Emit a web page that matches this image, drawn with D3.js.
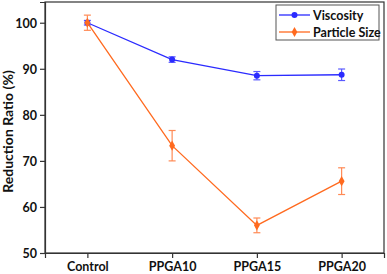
<!DOCTYPE html>
<html>
<head>
<meta charset="utf-8">
<script src="https://cdn.jsdelivr.net/npm/d3@7/dist/d3.min.js"></script>
<style>
  html, body { margin: 0; padding: 0; background: #fff; }
  text { font-family: Lato, "Open Sans", sans-serif; font-weight: bold; }
</style>
</head>
<body>
<svg id="chart" width="387" height="274"></svg>
<script>
// data
var categories = ['Control', 'PPGA10', 'PPGA15', 'PPGA20'];
var viscosity = [100, 92.0, 88.5, 88.7];
var viscosityErr = [0.5, 0.6, 0.9, 1.25];
var particle = [100, 73.3, 56.0, 65.6];
var particleErr = [1.65, 3.3, 1.6, 2.9];
var yTicks = [50, 60, 70, 80, 90, 100];

var W = 387, H = 274;
var m = { left: 45, right: 3, top: 2, bottom: 21 };
var svg = d3.select('#chart');

var x = d3.scalePoint().domain(categories).range([m.left, W - m.right]).padding(0.5);
var y = d3.scaleLinear().domain([50, 104.5]).range([H - m.bottom, m.top]);

var axisCol = '#333';
// frame
svg.append('rect').attr('x', m.left).attr('y', m.top)
  .attr('width', W - m.right - m.left).attr('height', H - m.bottom - m.top)
  .attr('fill', 'none').attr('stroke', axisCol).attr('stroke-width', 1.2);

var gx = svg.append('g').attr('transform', 'translate(0,' + (H - m.bottom) + ')')
  .call(d3.axisBottom(x).tickSize(5).tickPadding(4));
var gy = svg.append('g').attr('transform', 'translate(' + m.left + ',0)')
  .call(d3.axisLeft(y).tickValues(yTicks).tickSize(5).tickPadding(3));
[gx, gy].forEach(function (g) {
  g.select('.domain').attr('stroke', axisCol).attr('stroke-width', 1.2);
  g.selectAll('.tick line').attr('stroke', axisCol).attr('stroke-width', 1.2);
  g.selectAll('.tick text').attr('fill', '#111').style('font-size', '12.5px')
    .style('font-family', 'Lato, sans-serif').style('font-weight', 'bold');
});
gy.selectAll('.tick text').attr('dy', '0.36em');

svg.append('text').attr('transform', 'translate(13,' + (m.top + (H - m.bottom - m.top) / 2 + 4) + ') rotate(-90)')
  .attr('text-anchor', 'middle').attr('fill', '#111').style('font-size', '14px')
  .text('Reduction Ratio (%)');

var series = [
  { name: 'Viscosity', vals: viscosity, err: viscosityErr, color: '#2b2bff', errColor: '#5a5aff', shape: d3.symbolCircle },
  { name: 'Particle Size', vals: particle, err: particleErr, color: '#ff6a1f', errColor: '#ff8a55', shape: d3.symbolDiamond }
];

series.forEach(function (s) {
  var pts = categories.map(function (c, i) { return { c: c, v: s.vals[i], e: s.err[i] }; });
  var g = svg.append('g');
  g.append('path').datum(pts).attr('fill', 'none').attr('stroke', s.color).attr('stroke-width', 1.3)
    .attr('d', d3.line().x(function (d) { return x(d.c); }).y(function (d) { return y(d.v); }));
  var eb = g.selectAll('.eb').data(pts).enter().append('g');
  eb.append('line').attr('x1', function (d) { return x(d.c); }).attr('x2', function (d) { return x(d.c); })
    .attr('y1', function (d) { return y(d.v - d.e); }).attr('y2', function (d) { return y(d.v + d.e); })
    .attr('stroke', s.errColor).attr('stroke-width', 1.2);
  [-1, 1].forEach(function (sg) {
    eb.append('line').attr('x1', function (d) { return x(d.c) - 3.5; }).attr('x2', function (d) { return x(d.c) + 3.5; })
      .attr('y1', function (d) { return y(d.v + sg * d.e); }).attr('y2', function (d) { return y(d.v + sg * d.e); })
      .attr('stroke', s.errColor).attr('stroke-width', 1.2);
  });
  g.selectAll('.pt').data(pts).enter().append('path')
    .attr('transform', function (d) { return 'translate(' + x(d.c) + ',' + y(d.v) + ')'; })
    .attr('d', d3.symbol().type(s.shape).size(s.shape === d3.symbolCircle ? 28 : 30))
    .attr('fill', s.color);
});

// legend
var lg = svg.append('g');
lg.append('rect').attr('x', 276).attr('y', 5).attr('width', 103).attr('height', 35)
  .attr('fill', '#fff').attr('stroke', '#555').attr('stroke-width', 1);
series.forEach(function (s, i) {
  var yy = 15 + i * 17;
  lg.append('line').attr('x1', 279).attr('x2', 310).attr('y1', yy).attr('y2', yy)
    .attr('stroke', s.color).attr('stroke-width', 1.3);
  lg.append('path').attr('transform', 'translate(294.5,' + yy + ')')
    .attr('d', d3.symbol().type(s.shape).size(28)).attr('fill', s.color);
  lg.append('text').attr('x', 313).attr('y', yy + 4.5).attr('fill', '#111')
    .style('font-size', '12.5px').text(s.name);
});
</script>
</body>
</html>
